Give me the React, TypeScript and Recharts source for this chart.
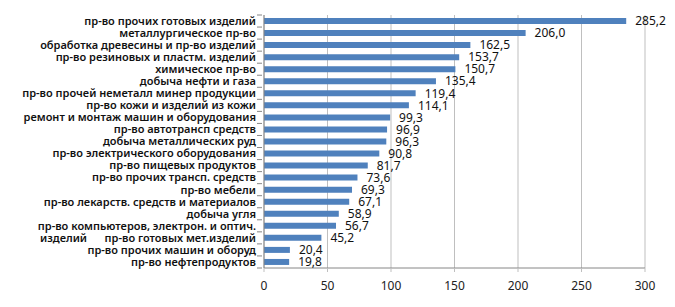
import { BarChart, Bar, XAxis, YAxis, CartesianGrid, LabelList } from 'recharts'

const industries = [
  'пр-во прочих готовых изделий',
  'металлургическое пр-во',
  'обработка древесины и пр-во изделий',
  'пр-во резиновых и пластм. изделий',
  'химическое пр-во',
  'добыча нефти и газа',
  'пр-во прочей неметалл минер продукции',
  'пр-во кожи и изделий из кожи',
  'ремонт и монтаж машин и оборудования',
  'пр-во автотрансп средств',
  'добыча металлических руд',
  'пр-во электрического оборудования',
  'пр-во пищевых продуктов',
  'пр-во прочих трансп. средств',
  'пр-во мебели',
  'пр-во лекарств. средств и материалов',
  'добыча угля',
  'пр-во компьютеров, электрон. и оптич. изделий',
  'пр-во готовых мет.изделий',
  'пр-во прочих машин и оборуд',
  'пр-во нефтепродуктов',
]

const indexValues = [
  285.2, 206.0, 162.5, 153.7, 150.7, 135.4, 119.4, 114.1, 99.3, 96.9, 96.3,
  90.8, 81.7, 73.6, 69.3, 67.1, 58.9, 56.7, 45.2, 20.4, 19.8,
]

const xTicks = [0, 50, 100, 150, 200, 250, 300]

const data = industries.map((name, i) => ({ name, value: indexValues[i] }))

const FONT = '"Noto Sans", sans-serif'
const TOP = 15
const BOTTOM = 39
const HEIGHT = 307
const band = (HEIGHT - TOP - BOTTOM) / industries.length
const labelStyle = { fontSize: 11, fontWeight: 600, fill: '#111', fontFamily: FONT }

function CategoryTick(props: any) {
  const { x, y, payload, index } = props
  const text: string = payload.value
  const axisX = x + 6
  const marks = [
    <line key="t" x1={axisX - 5} x2={axisX} y1={y - band / 2} y2={y - band / 2} stroke="#868686" />,
  ]
  if (index === industries.length - 1) {
    marks.push(
      <line key="b" x1={axisX - 5} x2={axisX} y1={y + band / 2} y2={y + band / 2} stroke="#868686" />
    )
  }
  // long label wraps like in the excel original
  if (text.length > 40) {
    const cut = text.lastIndexOf(' ')
    return (
      <g>
        {marks}
        <text x={x} y={y} dy="0.35em" textAnchor="end" {...labelStyle}>
          {text.slice(0, cut)}
        </text>
        <text x={40} y={y + band} dy="0.35em" textAnchor="start" {...labelStyle}>
          {text.slice(cut + 1)}
        </text>
      </g>
    )
  }
  return (
    <g>
      {marks}
      <text x={x} y={y} dy="0.35em" textAnchor="end" {...labelStyle}>
        {text}
      </text>
    </g>
  )
}

export default function App() {
  return (
    <div style={{ position: 'absolute', left: 0, top: 0, background: '#fff' }}>
      <BarChart
        width={675}
        height={HEIGHT}
        data={data}
        layout="vertical"
        margin={{ top: TOP, right: 30, bottom: 0, left: 0 }}
        barSize={6}
      >
        <CartesianGrid horizontal={false} stroke="#BFBFBF" />
        <XAxis
          type="number"
          domain={[0, 300]}
          ticks={xTicks}
          height={BOTTOM}
          stroke="#868686"
          tickLine={{ stroke: '#BFBFBF' }}
          tickSize={4}
          tickMargin={9}
          tick={{ fontSize: 12, fill: '#222', fontFamily: FONT }}
        />
        <YAxis
          type="category"
          dataKey="name"
          width={264}
          stroke="#868686"
          tickLine={false}
          interval={0}
          tick={<CategoryTick />}
        />
        <Bar dataKey="value" fill="#4F81BD" isAnimationActive={false}>
          <LabelList
            dataKey="value"
            position="right"
            offset={9}
            formatter={(v: any) => Number(v).toFixed(1).replace('.', ',')}
            style={{ fontSize: 12, fill: '#111', fontFamily: FONT }}
          />
        </Bar>
      </BarChart>
    </div>
  )
}
